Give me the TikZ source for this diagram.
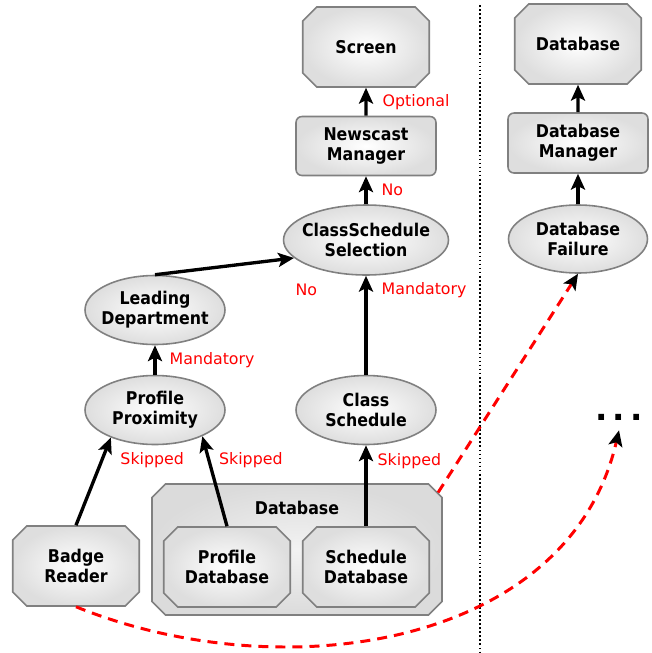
\documentclass[tikz,border=0pt]{standalone}
\usepackage{fontspec}
\setmainfont{DejaVu Sans}
\newfontfamily\unitfont[FakeStretch=0.9]{DejaVu Sans}
\usepackage{tikz}
\usetikzlibrary{positioning}
\usetikzlibrary{shapes}
\usetikzlibrary{arrows.meta}
\tikzset{
  unit/.style={draw=black!50, line width=0.9pt, shade, inner color=white, outer color=black!13,
    font=\unitfont\fontsize{10}{11.3}\selectfont\bfseries, align=center, inner sep=0pt},
  octa/.style={unit, chamfered rectangle, chamfered rectangle xsep=0.13cm, chamfered rectangle ysep=0.15cm,
    minimum width=2.53cm, minimum height=1.6cm},
  box/.style={unit, rectangle, rounded corners=0.12cm, minimum width=2.8cm, minimum height=1.18cm},
  oval/.style={unit, ellipse, inner xsep=-0.15cm, minimum width=2.8cm, minimum height=1.38cm},
  outer/.style={unit, chamfered rectangle, inner color=black!5, outer color=black!14,
    chamfered rectangle xsep=0.13cm, chamfered rectangle ysep=0.14cm, inner xsep=2.77cm, inner ysep=1.17cm},
  title/.style={font=\unitfont\fontsize{10}{11.3}\selectfont\bfseries, inner sep=0pt},
  lbl/.style={text=red, font=\fontsize{9}{11}\selectfont, inner sep=0pt},
  flow/.style={line width=1.9pt, -{Stealth[length=9pt, width=8pt, inset=2pt]}},
  fail/.style={red, line width=1.7pt, dash pattern=on 5.7pt off 4pt,
    -{Stealth[length=9pt, width=8pt, inset=2pt, color=black]}},
  more/.style={font=\fontsize{18.5}{20}\selectfont\bfseries, inner sep=0.2cm}
}
\begin{document}
\begin{tikzpicture}[x=0.02cm, y=-0.02cm]
\useasboundingbox (0,0) rectangle (652,653);
% news side
\node[octa] (screen) at (366,47) {Screen};
\node[box] (newscast) at (366,146) {Newscast\\Manager};
\node[oval, minimum width=3.3cm, minimum height=1.4cm] (selection) at (366,240) {ClassSchedule\\Selection};
\node[oval] (leading) at (155,310) {Leading\\Department};
\node[oval] (proximity) at (155,410) {Profile\\Proximity};
\node[oval] (schedule) at (366,410) {Class\\Schedule};
\node[outer] (db) at (297,549.5) {};
\node[title] (dbtitle) at (297,508) {Database};
\node[octa] (profiledb) at (227,567) {Profile\\Database};
\node[octa] (scheduledb) at (366,567) {Schedule\\Database};
\node[octa] (badge) at (76,566) {Badge\\Reader};
% database side
\node[octa] (database) at (578,44) {Database};
\node[box, minimum height=1.2cm] (dbmanager) at (578,143) {Database\\Manager};
\node[oval, minimum width=2.78cm, minimum height=1.36cm] (failure) at (578,239) {Database\\Failure};
\node[more, anchor=base] (dots) at (619,420) {.\kern3pt.\kern3pt.};
% separator
\coordinate (septop) at (480,5);
\coordinate (sepbot) at (480,653);
\draw[line width=0.9pt, dash pattern=on 1pt off 1.3pt] (septop) -- (sepbot);
% links
\draw[flow] (newscast) -- node[lbl, right=0.3cm] {Optional} (screen);
\draw[flow] (selection) -- node[lbl, right=0.28cm] {No} (newscast);
\draw[flow] (schedule) -- node[lbl, pos=0.85, right=0.28cm] {Mandatory} (selection);
\draw[flow] (leading.north) -- node[lbl, pos=1, below right=0.48cm and 0cm] {No} (selection.194);
\draw[flow] (proximity) -- node[lbl, right=0.26cm] {Mandatory} (leading);
\draw[flow] (badge.north) -- node[lbl, pos=0.74, right=0.34cm] {Skipped} (proximity.212);
\draw[flow] (profiledb.north) -- node[lbl, pos=0.73, right=0.17cm] {Skipped} (proximity.331);
\draw[flow] (scheduledb.north) -- node[lbl, pos=0.8, right=0.2cm] {Skipped} (schedule);
\draw[flow] (dbmanager) -- (database);
\draw[flow] (failure) -- (dbmanager);
% failures
\draw[fail] (db.22) -- (failure.south);
\draw[fail] (badge.south) to[out=-22, in=-103, looseness=1] (dots.south);
\end{tikzpicture}
\end{document}
